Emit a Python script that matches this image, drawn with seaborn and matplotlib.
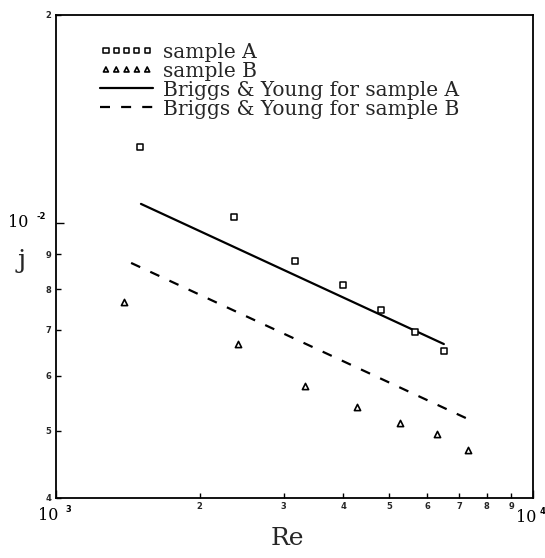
import matplotlib
matplotlib.use("Agg")
import matplotlib.pyplot as plt
import numpy as np
import pandas as pd
import seaborn as sns
from matplotlib.ticker import FixedLocator, FuncFormatter, NullFormatter

# Colburn j-factor against Reynolds number for the two samples
re_a = [1497, 2364, 3171, 3990, 4803, 5646, 6509]
j_a = [0.01287, 0.01018, 0.00880, 0.00812, 0.00746, 0.00695, 0.00651]
re_b = [1388, 2405, 3322, 4278, 5273, 6283, 7306]
j_b = [0.00767, 0.00667, 0.00580, 0.00541, 0.00513, 0.00494, 0.00469]

# Briggs & Young correlation, end points over each sample's range
by_re_a = [1507, 6503]
by_j_a = [0.01064, 0.00667]
by_re_b = [1437, 7286]
by_j_b = [0.00874, 0.00520]

# Axis ticks and their labels
x_minor = [2000, 3000, 4000, 5000, 6000, 7000, 8000, 9000]
x_minor_labels = ["2", "3", "4", "5", "6", "7", "8", "9"]
y_minor = [0.004, 0.005, 0.006, 0.007, 0.008, 0.009, 0.02]
y_minor_labels = ["4", "5", "6", "7", "8", "9", "2"]

labels = ["sample A", "sample B",
          "Briggs & Young for sample A", "Briggs & Young for sample B"]

sns.set_style("ticks")
plt.rcParams["font.family"] = ["DejaVu Serif"]

fig = plt.figure(figsize=(5.45, 5.58), dpi=100)
ax = fig.add_axes([56 / 545, 1 - 497.5 / 558, 477 / 545, 483 / 558])

sns.lineplot(x=by_re_a, y=by_j_a, color="black", linewidth=1.6,
             label=labels[2], ax=ax)
sns.lineplot(x=by_re_b, y=by_j_b, color="black", linewidth=1.6,
             linestyle=(0, (4.5, 5)), label=labels[3], ax=ax)
sns.scatterplot(x=re_a, y=j_a, marker="s", s=22, color="white",
                edgecolor="black", linewidth=1.1, label=labels[0],
                zorder=3, ax=ax)
sns.scatterplot(x=re_b, y=j_b, marker="^", s=20, color="white",
                edgecolor="black", linewidth=1.2, label=labels[1],
                zorder=3, ax=ax)

ax.set_xscale("log")
ax.set_yscale("log")
ax.set_xlim(1e3, 1e4)
ax.set_ylim(4e-3, 2e-2)
ax.set_xlabel("")
ax.set_ylabel("")


def small_label(values, texts):
    def fmt(v, pos):
        for val, txt in zip(values, texts):
            if np.isclose(v, val, rtol=1e-6):
                return txt
        return ""
    return FuncFormatter(fmt)


ax.xaxis.set_major_locator(FixedLocator([1e3, 1e4]))
ax.xaxis.set_major_formatter(NullFormatter())
ax.xaxis.set_minor_locator(FixedLocator(x_minor))
ax.xaxis.set_minor_formatter(small_label(x_minor, x_minor_labels))
ax.yaxis.set_major_locator(FixedLocator([1e-2]))
ax.yaxis.set_major_formatter(NullFormatter())
ax.yaxis.set_minor_locator(FixedLocator(y_minor))
ax.yaxis.set_minor_formatter(small_label(y_minor, y_minor_labels))

ax.tick_params(axis="both", which="both", direction="in", top=False,
               right=False, width=1.0, color="black")
ax.tick_params(which="major", length=6)
ax.tick_params(which="minor", length=3.8, labelsize=6, pad=3.2)
for t in ax.xaxis.get_minorticklabels() + ax.yaxis.get_minorticklabels():
    t.set_fontweight("bold")
    t.set_family("DejaVu Sans")

for sp in ax.spines.values():
    sp.set_visible(True)
    sp.set_linewidth(1.3)
    sp.set_color("black")

# Decade labels written as base plus raised exponent
ann = dict(textcoords="offset pixels", ha="center", va="center",
           color="black")
ax.annotate("10", xy=(0, 1e-2), xycoords=("axes fraction", "data"),
            xytext=(-38, 0), fontsize=11.5, **ann)
ax.annotate("-2", xy=(0, 1e-2), xycoords=("axes fraction", "data"),
            xytext=(-15, 6), fontsize=6, fontweight="bold",
            family="DejaVu Sans", **ann)
ax.annotate("10", xy=(0, 0), xycoords="axes fraction",
            xytext=(-8, -18), fontsize=11.5, **ann)
ax.annotate("3", xy=(0, 0), xycoords="axes fraction",
            xytext=(12, -12), fontsize=6, fontweight="bold",
            family="DejaVu Sans", **ann)
ax.annotate("10", xy=(1, 0), xycoords="axes fraction",
            xytext=(-7, -20), fontsize=11.5, **ann)
ax.annotate("4", xy=(1, 0), xycoords="axes fraction",
            xytext=(9, -14), fontsize=6, fontweight="bold",
            family="DejaVu Sans", **ann)

ax.text(-0.0713, 0.49, "j", transform=ax.transAxes, fontsize=19,
        ha="center", va="center")
ax.text(0.486, -0.085, "Re", transform=ax.transAxes, fontsize=18,
        ha="center", va="center")

handles, labs = ax.get_legend_handles_labels()
order = [labs.index(l) for l in labels]
ax.legend([handles[i] for i in order], [labs[i] for i in order],
          loc="upper left", bbox_to_anchor=(0.092, 0.942), frameon=False,
          fontsize=14.5, scatterpoints=5, scatteryoffsets=[0.5],
          markerscale=0.8, handlelength=2.65, handletextpad=0.5,
          labelspacing=0.0, borderpad=0, borderaxespad=0)

fig.savefig("out.png", dpi=100)
